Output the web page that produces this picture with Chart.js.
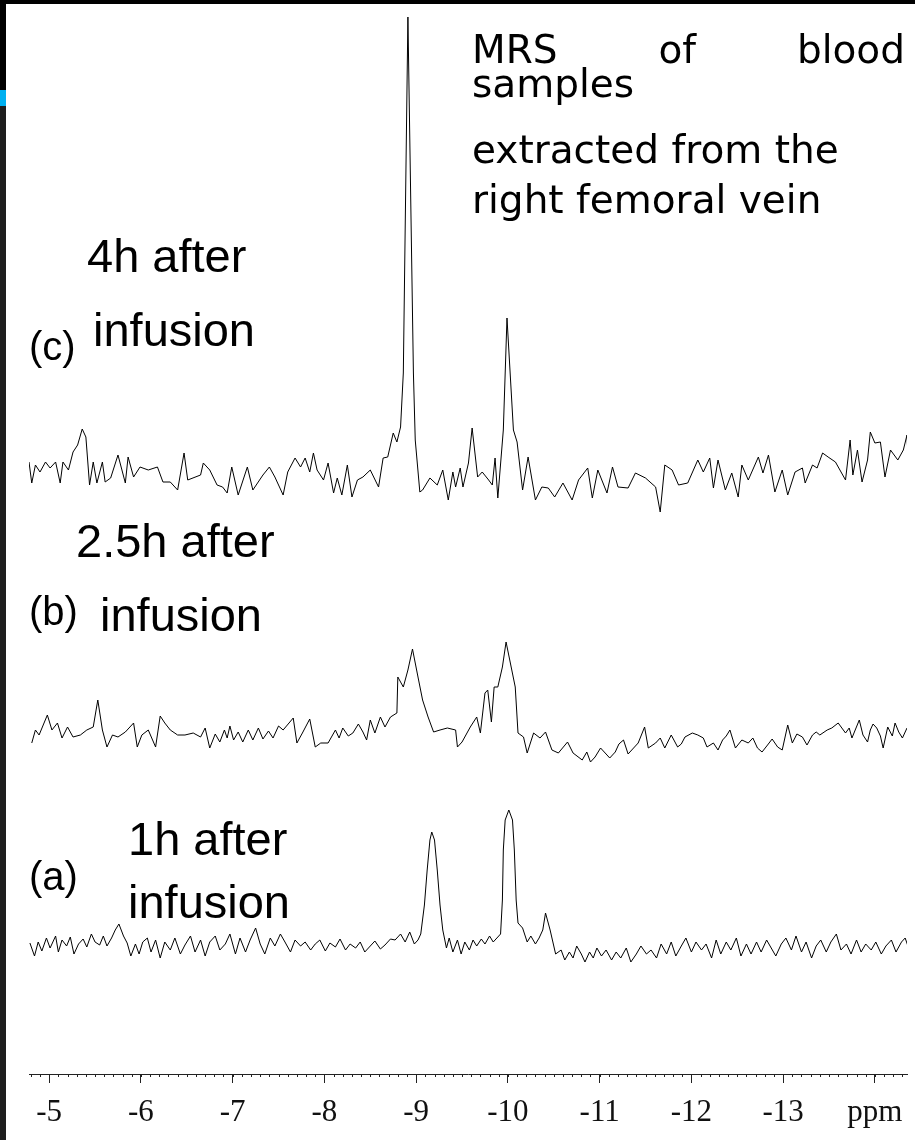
<!DOCTYPE html>
<html>
<head>
<meta charset="utf-8">
<script src="https://cdn.jsdelivr.net/npm/chart.js@4.4.1/dist/chart.umd.min.js"></script>
<style>
  html, body { margin: 0; padding: 0; background: #fff; }
  #wrap { position: relative; width: 915px; height: 1140px; overflow: hidden; background: #fff; }
  #spec { position: absolute; left: 0; top: 0; }
  .edge-top { position: absolute; left: 0; top: 0; width: 915px; height: 4px; background: #000; }
  .edge-left { position: absolute; left: 0; top: 0; width: 6px; height: 1140px;
    background: linear-gradient(#000 0 90px, #00b0f0 90px 106px, #1e1e1e 106px); }
  .lbl { position: absolute; font-family: "Liberation Sans", Arial, sans-serif; line-height: 1; color: #000; white-space: nowrap; }
  .note { position: absolute; left: 472px; width: 433px; font-family: "Comic Sans MS", "DejaVu Sans", sans-serif;
    font-size: 39px; line-height: 1; color: #000; white-space: nowrap; }
  .just { display: flex; justify-content: space-between; }
</style>
</head>
<body>
<div id="wrap">
  <canvas id="spec" width="915" height="1140"></canvas>
  <div class="edge-top"></div>
  <div class="edge-left"></div>

  <div class="note just" style="top:30px"><span>MRS</span><span>of</span><span>blood</span></div>
  <div class="note" style="top:64px">samples</div>
  <div class="note" style="top:130px">extracted from the</div>
  <div class="note" style="top:180px">right femoral vein</div>

  <div class="lbl" style="left:87px;top:232px;font-size:47px">4h after</div>
  <div class="lbl" style="left:29px;top:326px;font-size:40px">(c)</div>
  <div class="lbl" style="left:93px;top:306px;font-size:47px">infusion</div>

  <div class="lbl" style="left:76px;top:517px;font-size:47px">2.5h after</div>
  <div class="lbl" style="left:29px;top:591px;font-size:40px">(b)</div>
  <div class="lbl" style="left:100px;top:591px;font-size:47px">infusion</div>

  <div class="lbl" style="left:128px;top:815px;font-size:47px">1h after</div>
  <div class="lbl" style="left:29px;top:856px;font-size:40px">(a)</div>
  <div class="lbl" style="left:128px;top:878px;font-size:47px">infusion</div>
</div>

<script>
// x axis (chemical shift, ppm)
const tickValues = [-5, -6, -7, -8, -9, -10, -11, -12, -13, -14];
const tickLabels = ['-5', '-6', '-7', '-8', '-9', '-10', '-11', '-12', '-13', 'ppm'];
const minorStep = 0.1;

// vertical offset of each spectrum in the stack
const offsetA = 126;
const offsetB = 344;
const offsetC = 596;

// (c) 4h after infusion: [ppm, intensity]
const traceC = [
  [-4.78,16],[-4.81,-5],[-4.85,13],[-4.90,6],[-4.96,16],[-5.01,10],[-5.07,16],[-5.12,-5],[-5.15,16],[-5.21,8],
  [-5.26,26],[-5.31,33],[-5.36,49],[-5.40,41],[-5.44,-7],[-5.48,16],[-5.52,-5],[-5.58,16],[-5.61,-4],[-5.67,0],
  [-5.75,23],[-5.83,-5],[-5.86,21],[-5.92,1],[-5.99,11],[-6.08,8],[-6.18,11],[-6.24,-4],[-6.32,-4],[-6.40,-12],
  [-6.47,25],[-6.51,-2],[-6.65,3],[-6.68,15],[-6.75,8],[-6.83,-7],[-6.89,-9],[-6.94,-15],[-6.99,11],[-7.06,-17],
  [-7.16,11],[-7.22,-12],[-7.33,3],[-7.40,11],[-7.46,1],[-7.55,-17],[-7.60,6],[-7.68,20],[-7.74,11],[-7.79,20],
  [-7.84,6],[-7.88,25],[-7.92,8],[-7.99,-2],[-8.04,15],[-8.10,-15],[-8.14,0],[-8.19,-17],[-8.25,13],[-8.30,-19],
  [-8.36,-2],[-8.42,1],[-8.50,8],[-8.59,-9],[-8.64,20],[-8.69,21],[-8.75,45],[-8.79,36],[-8.83,51],[-8.86,105],
  [-8.91,461],[-8.97,105],[-8.99,38],[-9.04,-14],[-9.07,-12],[-9.15,0],[-9.23,-7],[-9.29,8],[-9.35,-22],[-9.40,6],
  [-9.43,-9],[-9.48,10],[-9.51,-9],[-9.57,15],[-9.61,50],[-9.67,1],[-9.72,6],[-9.79,-2],[-9.83,-7],[-9.86,20],
  [-9.89,-20],[-9.95,48],[-9.99,160],[-10.06,48],[-10.10,36],[-10.16,-12],[-10.22,21],[-10.30,-22],[-10.37,-9],[-10.44,-10],
  [-10.51,-19],[-10.60,-5],[-10.70,-22],[-10.77,-2],[-10.87,10],[-10.92,-20],[-10.98,8],[-11.08,-15],[-11.14,11],[-11.20,-9],
  [-11.31,-10],[-11.39,5],[-11.50,0],[-11.61,-9],[-11.66,-34],[-11.71,13],[-11.79,8],[-11.86,-7],[-11.96,-5],[-12.07,18],
  [-12.13,6],[-12.20,20],[-12.24,-10],[-12.29,18],[-12.37,-12],[-12.44,5],[-12.51,-19],[-12.55,13],[-12.62,-2],[-12.73,21],
  [-12.78,5],[-12.84,23],[-12.91,-14],[-12.99,8],[-13.05,-17],[-13.13,6],[-13.21,10],[-13.24,-5],[-13.32,13],[-13.37,10],
  [-13.43,25],[-13.49,21],[-13.57,16],[-13.68,-2],[-13.73,38],[-13.76,3],[-13.81,28],[-13.86,-4],[-13.92,18],[-13.95,46],
  [-14.00,35],[-14.06,36],[-14.11,1],[-14.17,28],[-14.25,18],[-14.31,28],[-14.35,43],[-14.36,23]
];

// (b) 2.5h after infusion
const traceB = [
  [-4.81,-13],[-4.85,0],[-4.89,-5],[-4.98,15],[-5.03,0],[-5.09,7],[-5.14,-8],[-5.20,3],[-5.26,-7],[-5.34,-5],
  [-5.41,0],[-5.48,3],[-5.53,30],[-5.58,0],[-5.63,-17],[-5.69,-5],[-5.75,-7],[-5.83,-2],[-5.92,7],[-5.96,-17],
  [-6.01,-5],[-6.08,0],[-6.16,-17],[-6.21,14],[-6.26,7],[-6.32,0],[-6.40,-5],[-6.48,-5],[-6.57,-3],[-6.65,-7],
  [-6.70,2],[-6.75,-18],[-6.81,-4],[-6.86,-12],[-6.91,0],[-6.94,-8],[-6.97,4],[-7.01,-10],[-7.06,-2],[-7.11,-12],
  [-7.17,0],[-7.22,-10],[-7.28,2],[-7.33,-9],[-7.39,-1],[-7.44,-8],[-7.50,4],[-7.55,0],[-7.66,12],[-7.70,-13],
  [-7.76,-3],[-7.84,11],[-7.90,-17],[-7.96,-13],[-8.04,-13],[-8.12,0],[-8.16,-8],[-8.20,2],[-8.26,-6],[-8.31,-3],
  [-8.37,6],[-8.42,-2],[-8.46,-10],[-8.50,10],[-8.55,-3],[-8.61,13],[-8.66,3],[-8.72,13],[-8.79,17],[-8.80,53],
  [-8.86,43],[-8.91,60],[-8.96,81],[-9.02,53],[-9.07,30],[-9.13,13],[-9.19,-2],[-9.26,0],[-9.34,2],[-9.43,0],
  [-9.45,-17],[-9.50,-12],[-9.59,3],[-9.66,13],[-9.70,-3],[-9.75,37],[-9.78,40],[-9.82,8],[-9.85,43],[-9.89,43],
  [-9.94,63],[-9.98,88],[-10.02,70],[-10.08,43],[-10.11,-3],[-10.17,-7],[-10.21,-23],[-10.28,-3],[-10.35,-8],[-10.41,-2],
  [-10.48,-20],[-10.55,-23],[-10.65,-12],[-10.71,-23],[-10.81,-30],[-10.86,-22],[-10.90,-32],[-10.95,-27],[-11.01,-18],[-11.06,-23],
  [-11.11,-28],[-11.17,-22],[-11.21,-14],[-11.26,-10],[-11.31,-24],[-11.35,-20],[-11.42,-13],[-11.49,3],[-11.53,-18],[-11.61,-13],
  [-11.66,-8],[-11.71,-18],[-11.78,-5],[-11.85,-17],[-11.89,-14],[-11.93,-7],[-12.01,-3],[-12.07,-5],[-12.13,-8],[-12.17,-17],
  [-12.24,-13],[-12.29,-20],[-12.34,-10],[-12.38,-6],[-12.42,0],[-12.48,-18],[-12.55,-10],[-12.62,-13],[-12.67,-8],[-12.72,-18],
  [-12.77,-22],[-12.83,-15],[-12.88,-9],[-12.94,-17],[-12.99,-20],[-13.05,5],[-13.10,-13],[-13.15,-4],[-13.21,-7],[-13.26,-15],
  [-13.32,-5],[-13.36,-2],[-13.40,-5],[-13.48,0],[-13.53,2],[-13.60,7],[-13.68,-3],[-13.72,2],[-13.75,-8],[-13.83,10],
  [-13.87,-5],[-13.92,-12],[-13.95,0],[-13.98,6],[-14.02,2],[-14.06,-6],[-14.09,-18],[-14.14,3],[-14.19,-6],[-14.22,7],
  [-14.26,-2],[-14.30,-8],[-14.35,2]
];

// (a) 1h after infusion
const traceA = [
  [-4.79,5],[-4.84,-8],[-4.88,6],[-4.92,-3],[-4.97,10],[-5.01,0],[-5.07,12],[-5.10,-4],[-5.14,8],[-5.19,2],
  [-5.23,11],[-5.27,-6],[-5.32,4],[-5.37,9],[-5.41,1],[-5.46,14],[-5.50,6],[-5.55,3],[-5.59,12],[-5.63,2],
  [-5.68,10],[-5.72,18],[-5.76,24],[-5.81,12],[-5.85,5],[-5.89,-8],[-5.94,4],[-5.98,-6],[-6.02,6],[-6.07,10],
  [-6.11,-4],[-6.16,8],[-6.21,-10],[-6.26,6],[-6.32,-2],[-6.37,10],[-6.43,-6],[-6.48,3],[-6.54,12],[-6.59,-4],
  [-6.65,8],[-6.70,-8],[-6.75,6],[-6.81,12],[-6.86,-2],[-6.92,4],[-6.97,14],[-7.03,-6],[-7.08,10],[-7.14,-4],
  [-7.19,8],[-7.25,20],[-7.30,4],[-7.35,-6],[-7.41,10],[-7.46,2],[-7.52,14],[-7.57,6],[-7.63,-4],[-7.68,8],
  [-7.74,2],[-7.79,6],[-7.85,-2],[-7.90,4],[-7.95,8],[-8.01,-3],[-8.06,5],[-8.12,1],[-8.17,9],[-8.23,-2],
  [-8.28,4],[-8.34,0],[-8.39,6],[-8.44,-4],[-8.50,2],[-8.55,7],[-8.61,-1],[-8.66,3],[-8.72,9],[-8.77,8],
  [-8.83,14],[-8.88,6],[-8.93,16],[-8.98,4],[-9.02,8],[-9.05,14],[-9.09,43],[-9.12,78],[-9.15,108],[-9.17,116],
  [-9.20,108],[-9.23,78],[-9.26,43],[-9.29,18],[-9.33,0],[-9.36,10],[-9.40,-4],[-9.45,8],[-9.49,-6],[-9.53,6],
  [-9.58,-2],[-9.62,8],[-9.66,2],[-9.71,9],[-9.75,4],[-9.80,12],[-9.84,6],[-9.88,10],[-9.92,14],[-9.94,48],
  [-9.95,98],[-9.97,128],[-10.01,138],[-10.05,128],[-10.07,98],[-10.09,48],[-10.11,25],[-10.16,20],[-10.21,6],[-10.25,12],
  [-10.30,4],[-10.34,10],[-10.38,18],[-10.41,35],[-10.46,18],[-10.52,-6],[-10.58,-2],[-10.62,-12],[-10.67,-4],[-10.71,-10],
  [-10.75,2],[-10.80,-6],[-10.84,-14],[-10.89,-4],[-10.93,-10],[-10.97,0],[-11.02,-8],[-11.07,-2],[-11.13,-12],[-11.18,-4],
  [-11.23,-10],[-11.29,0],[-11.34,-14],[-11.40,-6],[-11.45,2],[-11.51,-6],[-11.56,-2],[-11.62,-10],[-11.67,4],[-11.73,-6],
  [-11.78,6],[-11.83,-8],[-11.89,2],[-11.94,10],[-12.00,-4],[-12.05,6],[-12.11,-2],[-12.16,4],[-12.22,-10],[-12.27,8],
  [-12.32,-6],[-12.38,6],[-12.43,-2],[-12.49,10],[-12.54,-8],[-12.60,4],[-12.65,-6],[-12.71,6],[-12.76,-4],[-12.82,8],
  [-12.87,0],[-12.92,-8],[-12.98,4],[-13.03,10],[-13.09,-2],[-13.14,12],[-13.20,-4],[-13.25,6],[-13.31,-10],[-13.36,2],
  [-13.41,8],[-13.47,-4],[-13.52,6],[-13.58,14],[-13.63,-2],[-13.69,4],[-13.74,-6],[-13.80,8],[-13.85,-4],[-13.90,4],
  [-13.96,-2],[-14.01,6],[-14.07,-6],[-14.12,2],[-14.18,8],[-14.23,-4],[-14.29,6],[-14.33,10],[-14.36,2]
];

function stacked(trace, offset) {
  return trace.map(([ppm, v]) => ({ x: ppm, y: v + offset }));
}

function lineSet(label, trace, offset) {
  return {
    label: label,
    data: stacked(trace, offset),
    borderColor: '#000',
    borderWidth: 1,
    pointRadius: 0,
    tension: 0,
    fill: false
  };
}

// small 0.1 ppm ticks hanging under the axis line
const minorTicks = {
  id: 'minorTicks',
  afterDraw(chart) {
    const sc = chart.scales.x;
    const ctx = chart.ctx;
    ctx.save();
    ctx.strokeStyle = '#222';
    ctx.lineWidth = 1;
    ctx.beginPath();
    const first = Math.ceil(sc.min / minorStep);
    const last = Math.floor(sc.max / minorStep);
    for (let k = first; k <= last; k++) {
      const px = Math.round(sc.getPixelForValue(k * minorStep)) + 0.5;
      ctx.moveTo(px, sc.top);
      ctx.lineTo(px, sc.top + 3);
    }
    ctx.stroke();
    ctx.restore();
  }
};

new Chart(document.getElementById('spec').getContext('2d'), {
  type: 'line',
  data: {
    datasets: [
      lineSet('(c) 4h after infusion', traceC, offsetC),
      lineSet('(b) 2.5h after infusion', traceB, offsetB),
      lineSet('(a) 1h after infusion', traceA, offsetA)
    ]
  },
  options: {
    responsive: false,
    animation: false,
    devicePixelRatio: 1,
    layout: { padding: { left: 29, right: 8, top: 4, bottom: 0 } },
    plugins: { legend: { display: false }, tooltip: { enabled: false } },
    scales: {
      x: {
        type: 'linear',
        reverse: true,
        min: -14.35,
        max: -4.78,
        border: { display: true, color: '#222', width: 1 },
        grid: { drawOnChartArea: false, drawTicks: true, tickLength: 9, color: '#222' },
        afterBuildTicks: sc => { sc.ticks = tickValues.map(v => ({ value: v })); },
        afterFit: sc => { sc.height = 66; },
        ticks: {
          color: '#111',
          padding: 11,
          maxRotation: 0,
          autoSkip: false,
          font: { family: '"Liberation Serif", "Times New Roman", serif', size: 31 },
          callback: v => tickLabels[tickValues.indexOf(v)]
        }
      },
      y: { display: false, min: 0, max: 1070 }
    }
  },
  plugins: [minorTicks]
});
</script>
</body>
</html>
